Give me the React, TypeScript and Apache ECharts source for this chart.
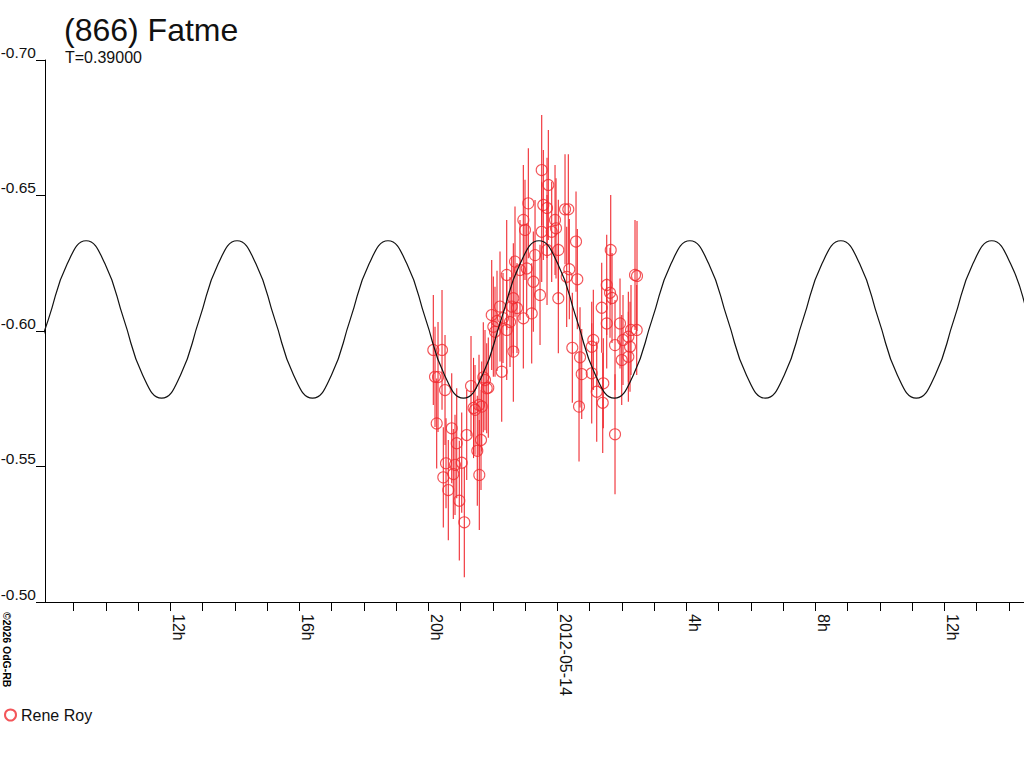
import React, { useEffect, useRef } from "react";
import * as echarts from "echarts";

// ---- Observations (hours relative to 2012-05-14 00:00 UT, reduced magnitude, error) ----
const obsHours = [
  -3.845, -3.792, -3.740, -3.699, -3.575, -3.535, -3.482, -3.451, -3.380, -3.274,
  -3.225, -3.172, -3.119, -3.039, -2.964, -2.884, -2.809, -2.676, -2.598, -2.552,
  -2.481, -2.428, -2.419, -2.366, -2.344, -2.295, -2.242, -2.189, -2.140, -2.034,
  -1.984, -1.932, -1.870, -1.777, -1.724, -1.684, -1.569, -1.569, -1.467, -1.414,
  -1.364, -1.364, -1.312, -1.250, -1.157, -1.054, -1.054, -1.002, -0.949, -0.899,
  -0.794, -0.744, -0.691, -0.536, -0.484, -0.484, -0.434, -0.319, -0.319, -0.279,
  -0.174, -0.071, -0.040, 0.031, 0.031, 0.239, 0.291, 0.341, 0.372, 0.465,
  0.580, 0.620, 0.673, 0.704, 0.757, 1.067, 1.067, 1.116, 1.222, 1.377,
  1.408, 1.426, 1.532, 1.532, 1.634, 1.656, 1.696, 1.789, 1.789, 1.944,
  1.997, 2.037, 2.202, 2.202, 2.254, 2.285, 2.409, 2.462, 2.471,
];
const obsMags = [
  -0.5930, -0.5831, -0.5659, -0.5830, -0.5930, -0.5460, -0.5782, -0.5512, -0.5413, -0.5641,
  -0.5472, -0.5506, -0.5586, -0.5374, -0.5514, -0.5294, -0.5616, -0.5797, -0.5716, -0.5709,
  -0.5558, -0.5727, -0.5469, -0.5598, -0.5721, -0.5829, -0.5819, -0.5789, -0.5791, -0.6059,
  -0.6016, -0.5997, -0.6037, -0.6090, -0.5850, -0.6048, -0.6207, -0.6004, -0.6033, -0.6090,
  -0.6121, -0.5924, -0.6256, -0.6085, -0.6225, -0.6410, -0.6047, -0.6373, -0.6231, -0.6471,
  -0.6065, -0.6182, -0.6280, -0.6133, -0.6594, -0.6366, -0.6465, -0.6454, -0.6299, -0.6539,
  -0.6366, -0.6410, -0.6379, -0.6299, -0.6121, -0.6449, -0.6200, -0.6449, -0.6228, -0.5938,
  -0.6330, -0.6191, -0.5721, -0.5903, -0.5841, -0.5844, -0.5942, -0.5967, -0.5776, -0.6086,
  -0.5735, -0.5807, -0.6170, -0.6028, -0.6141, -0.6299, -0.6122, -0.5948, -0.5619, -0.6028,
  -0.5893, -0.5967, -0.5979, -0.5905, -0.5942, -0.6004, -0.6207, -0.6004, -0.6203,
];
const obsErrs = [
  0.0203, 0.0185, 0.0166, 0.0203, 0.0221, 0.0185, 0.0203, 0.0166, 0.0185, 0.0203,
  0.0166, 0.0185, 0.0203, 0.0221, 0.0185, 0.0203, 0.0166, 0.0185, 0.0185, 0.0166,
  0.0203, 0.0185, 0.0203, 0.0185, 0.0166, 0.0203, 0.0185, 0.0166, 0.0185, 0.0203,
  0.0185, 0.0166, 0.0185, 0.0203, 0.0185, 0.0166, 0.0203, 0.0185, 0.0166, 0.0185,
  0.0203, 0.0185, 0.0203, 0.0166, 0.0185, 0.0203, 0.0185, 0.0185, 0.0166, 0.0203,
  0.0185, 0.0185, 0.0203, 0.0185, 0.0203, 0.0185, 0.0203, 0.0185, 0.0203, 0.0203,
  0.0185, 0.0203, 0.0185, 0.0185, 0.0203, 0.0203, 0.0185, 0.0203, 0.0185, 0.0203,
  0.0185, 0.0185, 0.0203, 0.0185, 0.0166, 0.0185, 0.0166, 0.0185, 0.0185, 0.0166,
  0.0185, 0.0166, 0.0185, 0.0166, 0.0166, 0.0203, 0.0166, 0.0166, 0.0221, 0.0166,
  0.0166, 0.0166, 0.0166, 0.0166, 0.0166, 0.0166, 0.0203, 0.0166, 0.0203,
];

// ---- Fitted curve (hours, magnitude) ----
const fitHours = [
  -16.365, -15.780, -15.195, -14.610, -14.025, -13.440, -12.855, -12.270, -11.685, -11.100,
  -10.515, -9.930, -9.345, -8.760, -8.175, -7.590, -7.005, -6.420, -5.835, -5.250,
  -4.665, -4.080, -3.495, -2.910, -2.325, -1.740, -1.155, -0.570, 0.015, 0.600,
  1.185, 1.770, 2.355, 2.940, 3.525, 4.110, 4.695, 5.280, 5.865, 6.450,
  7.035, 7.620, 8.205, 8.790, 9.375, 9.960, 10.545, 11.130, 11.715, 12.300,
  12.885, 13.470, 14.055, 14.640, 15.225,
];
const fitMags = [
  -0.5837, -0.6043, -0.6248, -0.6333, -0.6248, -0.6043, -0.5837, -0.5752, -0.5837, -0.6043,
  -0.6248, -0.6333, -0.6248, -0.6043, -0.5837, -0.5752, -0.5837, -0.6043, -0.6248, -0.6333,
  -0.6248, -0.6043, -0.5837, -0.5752, -0.5837, -0.6043, -0.6248, -0.6333, -0.6248, -0.6043,
  -0.5837, -0.5752, -0.5837, -0.6043, -0.6248, -0.6333, -0.6248, -0.6043, -0.5837, -0.5752,
  -0.5837, -0.6043, -0.6248, -0.6333, -0.6248, -0.6043, -0.5837, -0.5752, -0.5837, -0.6043,
  -0.6248, -0.6333, -0.6248, -0.6043, -0.5837,
];

// ---- Axes ----
const xMin = -15.885;
const xMax = 14.47;
const xTickHours = [
  -15, -14, -13, -12, -11, -10, -9, -8, -7, -6, -5, -4, -3, -2, -1,
  0, 1, 2, 3, 4, 5, 6, 7, 8, 9, 10, 11, 12, 13, 14,
];
const xLabelHours = [-12, -8, -4, 0, 4, 8, 12];
const xLabelTexts = ["12h", "16h", "20h", "2012-05-14", "4h", "8h", "12h"];
const yMin = -0.7;
const yMax = -0.5;
const yStep = 0.05;

const TITLE = "(866) Fatme";
const SUBTITLE = "T=0.39000";
const OBSERVER = "Rene Roy";
const COPYRIGHT = "\u00A92026 OdG-RB";

const RED = "#f02a30";
const FONT = '"Liberation Sans", Arial, sans-serif';

export default function App() {
  const ref = useRef<HTMLDivElement>(null);

  useEffect(() => {
    if (!ref.current) return;
    const chart = echarts.init(ref.current, undefined, { renderer: "svg" });

    const obs = obsHours.map((h, i) => [h, obsMags[i], obsErrs[i]]);
    const fit = fitHours.map((h, i) => [h, fitMags[i]]);

    const option: any = {
      animation: false,
      backgroundColor: "#ffffff",
      textStyle: { fontFamily: FONT },
      grid: {
        left: 45,
        top: 60,
        right: 0,
        bottom: 166,
        containLabel: false,
        outerBoundsMode: "none",
      },
      legend: {
        left: -1,
        top: 702,
        itemWidth: 11,
        itemHeight: 11,
        itemGap: 10,
        textStyle: { fontSize: 16, color: "#111", fontFamily: FONT },
        data: [{ name: OBSERVER, icon: "circle" }],
      },
      xAxis: {
        type: "value",
        min: xMin,
        max: xMax,
        axisLine: { show: true, onZero: false, lineStyle: { color: "#000", width: 1 } },
        axisTick: {
          show: true,
          length: 9,
          customValues: xTickHours,
          lineStyle: { color: "#000", width: 1 },
        },
        axisLabel: {
          show: true,
          customValues: xLabelHours,
          rotate: -90,
          margin: 12,
          verticalAlign: "bottom",
          fontSize: 16,
          color: "#111",
          fontFamily: FONT,
          formatter: (v: number) => {
            const idx = xLabelHours.findIndex((h) => Math.abs(h - v) < 1e-6);
            return idx >= 0 ? xLabelTexts[idx] : "";
          },
        },
        splitLine: { show: false },
      },
      yAxis: {
        type: "value",
        inverse: true,
        min: yMin,
        max: yMax,
        interval: yStep,
        axisLine: { show: true, onZero: false, lineStyle: { color: "#000", width: 1 } },
        axisTick: { show: true, length: 9, lineStyle: { color: "#000", width: 1 } },
        axisLabel: {
          show: true,
          margin: 9,
          verticalAlign: "bottom",
          fontSize: 15.5,
          color: "#111",
          fontFamily: FONT,
          formatter: (v: number) => v.toFixed(2),
        },
        splitLine: { show: false },
      },
      series: [
        {
          name: "errors",
          type: "custom",
          z: 1,
          clip: true,
          encode: { x: 0, y: 1 },
          data: obs,
          renderItem: (params: any, api: any) => {
            const x = api.value(0);
            const y = api.value(1);
            const e = api.value(2);
            const p1 = api.coord([x, y - e]);
            const p2 = api.coord([x, y + e]);
            return {
              type: "line",
              shape: { x1: p1[0], y1: p1[1], x2: p2[0], y2: p2[1] },
              style: { stroke: RED, lineWidth: 1.1 },
            };
          },
          silent: true,
        },
        {
          name: OBSERVER,
          type: "scatter",
          z: 2,
          symbol: "circle",
          symbolSize: 11,
          itemStyle: { color: "rgba(255,255,255,0)", borderColor: RED, borderWidth: 1.1 },
          data: obs.map((d) => [d[0], d[1]]),
        },
        {
          name: "fit",
          type: "line",
          z: 3,
          smooth: 0.5,
          showSymbol: false,
          symbol: "none",
          clip: true,
          lineStyle: { color: "#111", width: 1.2 },
          data: fit,
        },
      ],
      graphic: [
        {
          type: "text",
          x: 64,
          y: 30,
          style: {
            text: TITLE,
            fontSize: 32,
            fontFamily: FONT,
            fill: "#111",
            align: "left",
            verticalAlign: "middle",
          },
        },
        {
          type: "text",
          x: 65,
          y: 57.5,
          style: {
            text: SUBTITLE,
            fontSize: 16,
            fontFamily: FONT,
            fill: "#111",
            align: "left",
            verticalAlign: "middle",
          },
        },
        {
          type: "text",
          x: 1,
          y: 612,
          rotation: -Math.PI / 2,
          style: {
            text: COPYRIGHT,
            fontSize: 10.5,
            fontWeight: "bold",
            fontFamily: FONT,
            fill: "#000",
            align: "left",
            verticalAlign: "bottom",
          },
        },
      ],
    };

    chart.setOption(option);
    return () => chart.dispose();
  }, []);

  return (
    <div
      ref={ref}
      style={{ position: "absolute", left: 0, top: 0, width: 1024, height: 768, background: "#fff" }}
    />
  );
}
